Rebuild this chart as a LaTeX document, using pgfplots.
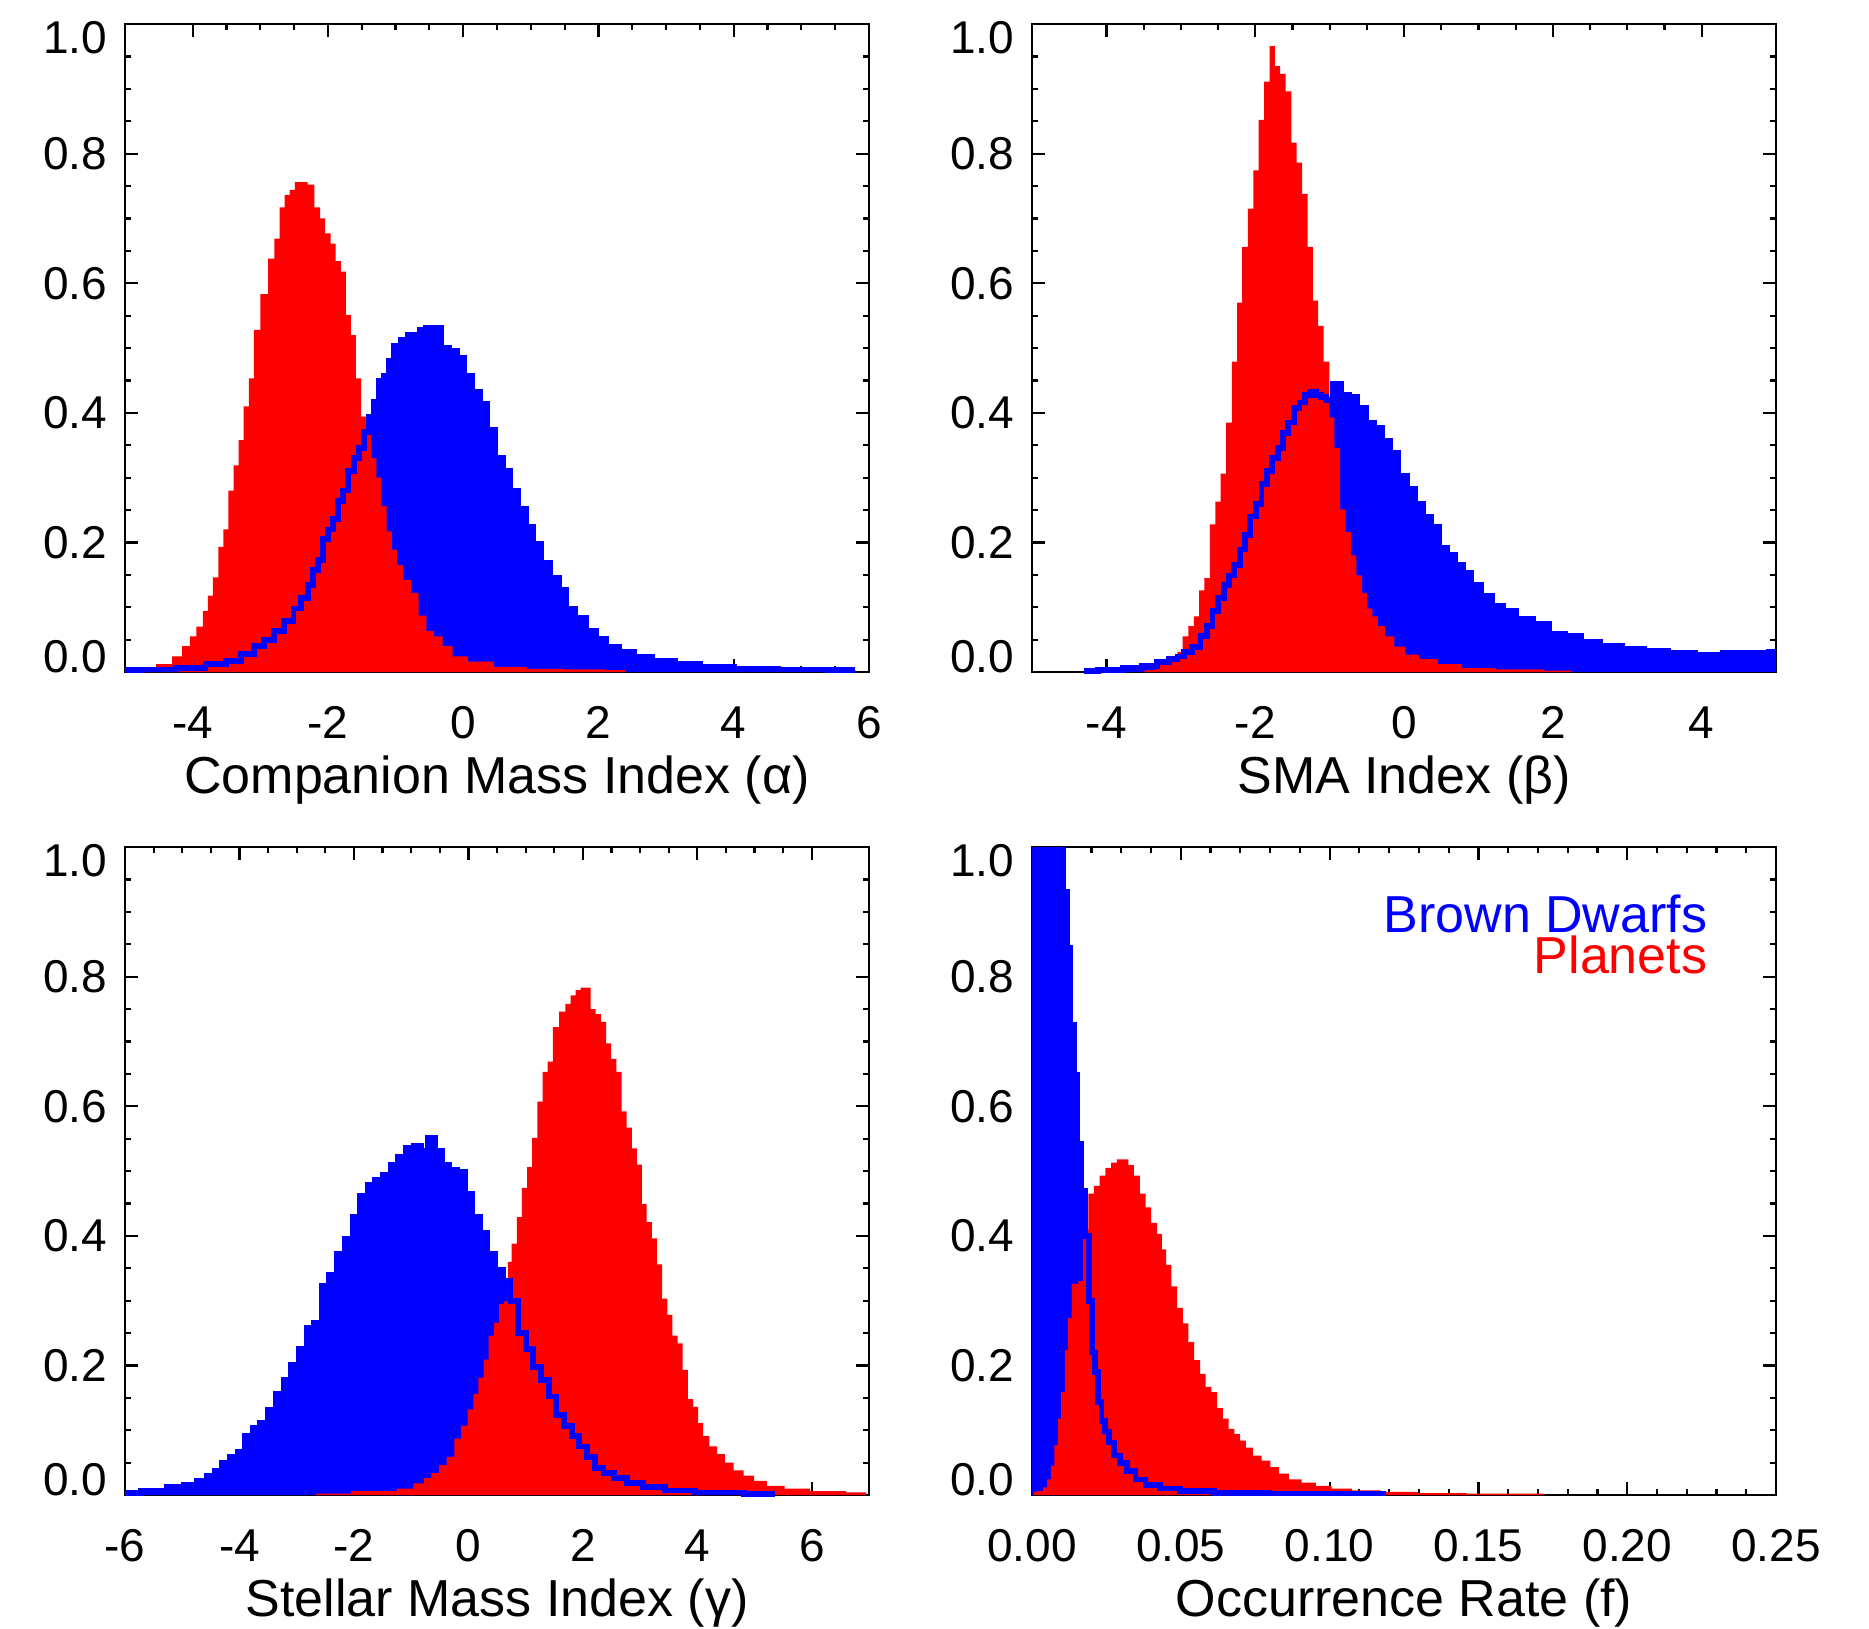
\documentclass[border=0pt]{standalone}
\usepackage{fontspec}
\setmainfont{Liberation Sans}
\usepackage{pgfplots}
\pgfplotsset{compat=1.18}

\pgfplotsset{
  idl/.style={
    scale only axis, width=186pt, height=162pt,
    ymin=0, ymax=1,
    axis line style={line width=0.65pt},
    tick style={black, line width=0.55pt},
    major tick length=3.2pt, minor tick length=1.6pt,
    tick align=inside,
    ytick={0,0.2,0.4,0.6,0.8,1},
    yticklabels={\smash{0.0},0.2,0.4,0.6,0.8,\smash{\raisebox{-7.4pt}{1.0}}},
    minor y tick num=3,
    tick label style={font=\fontsize{11.5}{13}\selectfont},
    yticklabel style={anchor=east, inner sep=0pt, xshift=-4.25pt},
    xticklabel style={anchor=base, inner sep=0pt, yshift=-16.5pt},
    label style={font=\fontsize{13}{15}\selectfont},
    xlabel style={at={(axis description cs:0.5,0)}, anchor=base, yshift=-30.25pt},
  },
  bfill/.style={fill=blue, draw=none, const plot mark mid},
  rfill/.style={fill=red, draw=none, const plot mark mid},
  bline/.style={blue, line width=1.45pt, const plot mark mid},
}

\begin{document}
\begin{tikzpicture}
\path[use as bounding box] (0,0) rectangle (467.25pt,-407pt);

% ---------------- Top left: Companion Mass Index
\begin{axis}[idl, clip=false, at={(31.25pt,-6pt)}, anchor=north west,
  xmin=-5, xmax=6, xtick={-4,-2,0,2,4,6}, xticklabels={-4,-2,0,2,4,6},
  minor x tick num=3, xlabel={Companion Mass Index (α)}]
\addplot[bfill] coordinates {(-5.0,0.003) (-4.5,0.004) (-4.0,0.006) (-3.62,0.012) (-3.4,0.017) (-3.17,0.028) (-3.02,0.04) (-2.87,0.05) (-2.72,0.063) (-2.57,0.079) (-2.45,0.098) (-2.34,0.114) (-2.26,0.134) (-2.19,0.157) (-2.11,0.173) (-2.04,0.205) (-1.96,0.22) (-1.89,0.236) (-1.81,0.264) (-1.74,0.28) (-1.66,0.31) (-1.58,0.33) (-1.51,0.346) (-1.43,0.37) (-1.36,0.394) (-1.28,0.417) (-1.21,0.449) (-1.13,0.457) (-1.06,0.48) (-0.98,0.504) (-0.87,0.512) (-0.75,0.52) (-0.68,0.504) (-0.6,0.528) (-0.49,0.531) (-0.38,0.531) (-0.26,0.50) (-0.15,0.496) (-0.04,0.484) (0.08,0.457) (0.19,0.433) (0.3,0.413) (0.42,0.374) (0.53,0.33) (0.64,0.31) (0.75,0.28) (0.87,0.252) (0.98,0.224) (1.09,0.197) (1.21,0.169) (1.36,0.146) (1.47,0.126) (1.58,0.098) (1.74,0.083) (1.89,0.063) (2.04,0.051) (2.19,0.039) (2.42,0.031) (2.64,0.024) (2.94,0.017) (3.32,0.012) (3.7,0.008) (4.3,0.005) (5.0,0.004) (5.8,0.003)} \closedcycle;
\addplot[rfill] coordinates {(-5.0,0.003) (-4.7,0.005) (-4.38,0.012) (-4.23,0.024) (-4.08,0.04) (-4.0,0.055) (-3.89,0.07) (-3.81,0.094) (-3.74,0.118) (-3.66,0.146) (-3.58,0.193) (-3.51,0.22) (-3.43,0.28) (-3.36,0.319) (-3.28,0.358) (-3.21,0.41) (-3.13,0.453) (-3.06,0.528) (-2.94,0.583) (-2.83,0.638) (-2.75,0.669) (-2.68,0.717) (-2.6,0.736) (-2.53,0.744) (-2.45,0.756) (-2.35,0.756) (-2.25,0.752) (-2.15,0.717) (-2.08,0.70) (-2.0,0.677) (-1.92,0.661) (-1.85,0.634) (-1.77,0.618) (-1.7,0.551) (-1.62,0.52) (-1.55,0.453) (-1.47,0.394) (-1.4,0.374) (-1.32,0.33) (-1.25,0.30) (-1.17,0.256) (-1.09,0.217) (-1.02,0.189) (-0.94,0.165) (-0.83,0.142) (-0.72,0.122) (-0.6,0.087) (-0.49,0.063) (-0.38,0.055) (-0.23,0.04) (-0.08,0.024) (0.23,0.016) (0.68,0.008) (1.2,0.005) (1.8,0.004) (2.4,0.003)} \closedcycle;
\addplot[bline] coordinates {(-5.0,0.003) (-4.5,0.004) (-4.0,0.006) (-3.62,0.012) (-3.4,0.017) (-3.17,0.028) (-3.02,0.04) (-2.87,0.05) (-2.72,0.063) (-2.57,0.079) (-2.45,0.098) (-2.34,0.114) (-2.26,0.134) (-2.19,0.157) (-2.11,0.173) (-2.04,0.205) (-1.96,0.22) (-1.89,0.236) (-1.81,0.264) (-1.74,0.28) (-1.66,0.31) (-1.58,0.33) (-1.51,0.346) (-1.43,0.37) (-1.36,0.394) (-1.28,0.417) (-1.21,0.449) (-1.13,0.457) (-1.06,0.48) (-0.98,0.504) (-0.87,0.512) (-0.75,0.52) (-0.68,0.504) (-0.6,0.528) (-0.49,0.531) (-0.38,0.531) (-0.26,0.50) (-0.15,0.496) (-0.04,0.484) (0.08,0.457) (0.19,0.433) (0.3,0.413) (0.42,0.374) (0.53,0.33) (0.64,0.31) (0.75,0.28) (0.87,0.252) (0.98,0.224) (1.09,0.197) (1.21,0.169) (1.36,0.146) (1.47,0.126) (1.58,0.098) (1.74,0.083) (1.89,0.063) (2.04,0.051) (2.19,0.039) (2.42,0.031) (2.64,0.024) (2.94,0.017) (3.32,0.012) (3.7,0.008) (4.3,0.005) (5.0,0.004) (5.8,0.003)};
\end{axis}

% ---------------- Top right: SMA Index
\begin{axis}[idl, clip=false, at={(258pt,-6pt)}, anchor=north west,
  xmin=-5, xmax=5, xtick={-4,-2,0,2,4}, xticklabels={-4,-2,0,2,4},
  minor x tick num=3, xlabel={SMA Index (β)}]
\addplot[bfill] coordinates {(-4.3,0.002) (-3.92,0.003) (-3.63,0.006) (-3.41,0.009) (-3.23,0.016) (-3.08,0.02) (-3.01,0.024) (-2.9,0.031) (-2.79,0.039) (-2.68,0.055) (-2.61,0.071) (-2.54,0.094) (-2.46,0.114) (-2.39,0.134) (-2.32,0.149) (-2.24,0.165) (-2.17,0.189) (-2.1,0.212) (-2.03,0.24) (-1.95,0.259) (-1.88,0.29) (-1.81,0.31) (-1.73,0.33) (-1.66,0.346) (-1.59,0.369) (-1.52,0.385) (-1.44,0.408) (-1.37,0.416) (-1.3,0.428) (-1.22,0.432) (-1.15,0.428) (-1.08,0.424) (-1.01,0.42) (-0.9,0.444) (-0.79,0.428) (-0.68,0.424) (-0.57,0.408) (-0.46,0.385) (-0.35,0.377) (-0.24,0.357) (-0.13,0.338) (-0.02,0.302) (0.09,0.283) (0.2,0.259) (0.31,0.24) (0.42,0.224) (0.52,0.192) (0.63,0.18) (0.74,0.165) (0.85,0.153) (0.96,0.134) (1.11,0.118) (1.25,0.102) (1.4,0.094) (1.62,0.082) (1.84,0.075) (2.06,0.059) (2.27,0.055) (2.49,0.047) (2.78,0.041) (3.08,0.035) (3.37,0.033) (3.73,0.03) (4.1,0.027) (4.46,0.029) (4.8,0.03) (5.0,0.031)} \closedcycle;
\addplot[rfill] coordinates {(-3.5,0.003) (-3.19,0.012) (-3.08,0.02) (-3.01,0.031) (-2.94,0.055) (-2.86,0.071) (-2.79,0.086) (-2.72,0.126) (-2.65,0.145) (-2.57,0.228) (-2.5,0.263) (-2.43,0.306) (-2.35,0.385) (-2.28,0.479) (-2.21,0.57) (-2.14,0.656) (-2.06,0.715) (-1.99,0.774) (-1.92,0.852) (-1.84,0.911) (-1.77,0.966) (-1.7,0.935) (-1.63,0.923) (-1.55,0.896) (-1.48,0.817) (-1.41,0.786) (-1.33,0.738) (-1.26,0.656) (-1.19,0.573) (-1.12,0.534) (-1.04,0.479) (-0.97,0.393) (-0.9,0.346) (-0.82,0.251) (-0.75,0.216) (-0.68,0.18) (-0.6,0.149) (-0.53,0.122) (-0.46,0.098) (-0.39,0.086) (-0.31,0.071) (-0.2,0.055) (-0.06,0.039) (0.09,0.027) (0.31,0.02) (0.6,0.012) (0.96,0.006) (1.5,0.004) (2.25,0.002)} \closedcycle;
\addplot[bline] coordinates {(-4.3,0.002) (-3.92,0.003) (-3.63,0.006) (-3.41,0.009) (-3.23,0.016) (-3.08,0.02) (-3.01,0.024) (-2.9,0.031) (-2.79,0.039) (-2.68,0.055) (-2.61,0.071) (-2.54,0.094) (-2.46,0.114) (-2.39,0.134) (-2.32,0.149) (-2.24,0.165) (-2.17,0.189) (-2.1,0.212) (-2.03,0.24) (-1.95,0.259) (-1.88,0.29) (-1.81,0.31) (-1.73,0.33) (-1.66,0.346) (-1.59,0.369) (-1.52,0.385) (-1.44,0.408) (-1.37,0.416) (-1.3,0.428) (-1.22,0.432) (-1.15,0.428) (-1.08,0.424) (-1.01,0.42) (-0.9,0.444) (-0.79,0.428) (-0.68,0.424) (-0.57,0.408) (-0.46,0.385) (-0.35,0.377) (-0.24,0.357) (-0.13,0.338) (-0.02,0.302) (0.09,0.283) (0.2,0.259) (0.31,0.24) (0.42,0.224) (0.52,0.192) (0.63,0.18) (0.74,0.165) (0.85,0.153) (0.96,0.134) (1.11,0.118) (1.25,0.102) (1.4,0.094) (1.62,0.082) (1.84,0.075) (2.06,0.059) (2.27,0.055) (2.49,0.047) (2.78,0.041) (3.08,0.035) (3.37,0.033) (3.73,0.03) (4.1,0.027) (4.46,0.029) (4.8,0.03) (5.0,0.031)};
\end{axis}

% ---------------- Bottom left: Stellar Mass Index
\begin{axis}[idl, clip=false, at={(31.25pt,-211.75pt)}, anchor=north west,
  xmin=-6, xmax=7, xtick={-6,-4,-2,0,2,4,6}, xticklabels={-6,-4,-2,0,2,4,6},
  minor x tick num=3, xlabel={Stellar Mass Index (γ)}]
\addplot[bfill] coordinates {(-6.0,0.003) (-5.44,0.006) (-5.08,0.012) (-4.86,0.016) (-4.63,0.022) (-4.5,0.03) (-4.37,0.038) (-4.23,0.05) (-4.1,0.059) (-3.97,0.067) (-3.83,0.091) (-3.7,0.103) (-3.57,0.111) (-3.43,0.132) (-3.3,0.156) (-3.16,0.177) (-3.03,0.201) (-2.9,0.225) (-2.76,0.258) (-2.63,0.266) (-2.5,0.323) (-2.36,0.339) (-2.23,0.372) (-2.09,0.396) (-1.96,0.429) (-1.83,0.461) (-1.69,0.478) (-1.56,0.486) (-1.43,0.494) (-1.29,0.51) (-1.16,0.522) (-1.02,0.535) (-0.89,0.539) (-0.76,0.531) (-0.64,0.551) (-0.53,0.531) (-0.4,0.51) (-0.27,0.502) (-0.13,0.498) (0.0,0.465) (0.13,0.429) (0.27,0.404) (0.4,0.372) (0.53,0.347) (0.67,0.331) (0.8,0.299) (0.94,0.25) (1.07,0.225) (1.2,0.197) (1.34,0.177) (1.47,0.152) (1.6,0.124) (1.74,0.107) (1.87,0.091) (2.0,0.075) (2.14,0.059) (2.27,0.042) (2.45,0.034) (2.63,0.026) (2.9,0.018) (3.21,0.012) (3.65,0.007) (4.28,0.004) (5.35,0.002)} \closedcycle;
\addplot[rfill] coordinates {(-2.67,0.002) (-1.43,0.006) (-1.07,0.01) (-0.85,0.018) (-0.71,0.026) (-0.58,0.034) (-0.45,0.046) (-0.31,0.059) (-0.18,0.087) (-0.07,0.107) (0.04,0.132) (0.13,0.156) (0.22,0.181) (0.31,0.209) (0.4,0.246) (0.49,0.266) (0.58,0.295) (0.67,0.299) (0.71,0.36) (0.8,0.388) (0.89,0.429) (0.98,0.474) (1.07,0.506) (1.16,0.551) (1.25,0.607) (1.34,0.653) (1.43,0.669) (1.52,0.722) (1.65,0.746) (1.74,0.758) (1.83,0.771) (1.92,0.779) (2.0,0.783) (2.09,0.783) (2.18,0.75) (2.27,0.742) (2.36,0.73) (2.45,0.697) (2.54,0.673) (2.63,0.653) (2.72,0.592) (2.81,0.567) (2.9,0.535) (2.99,0.51) (3.07,0.449) (3.16,0.421) (3.25,0.396) (3.34,0.356) (3.43,0.303) (3.52,0.278) (3.61,0.246) (3.7,0.234) (3.79,0.193) (3.88,0.148) (3.97,0.136) (4.06,0.111) (4.14,0.091) (4.28,0.075) (4.41,0.063) (4.55,0.05) (4.72,0.038) (4.9,0.03) (5.08,0.022) (5.35,0.014) (5.7,0.01) (6.24,0.006) (6.95,0.004)} \closedcycle;
\addplot[bline] coordinates {(-6.0,0.003) (-5.44,0.006) (-5.08,0.012) (-4.86,0.016) (-4.63,0.022) (-4.5,0.03) (-4.37,0.038) (-4.23,0.05) (-4.1,0.059) (-3.97,0.067) (-3.83,0.091) (-3.7,0.103) (-3.57,0.111) (-3.43,0.132) (-3.3,0.156) (-3.16,0.177) (-3.03,0.201) (-2.9,0.225) (-2.76,0.258) (-2.63,0.266) (-2.5,0.323) (-2.36,0.339) (-2.23,0.372) (-2.09,0.396) (-1.96,0.429) (-1.83,0.461) (-1.69,0.478) (-1.56,0.486) (-1.43,0.494) (-1.29,0.51) (-1.16,0.522) (-1.02,0.535) (-0.89,0.539) (-0.76,0.531) (-0.64,0.551) (-0.53,0.531) (-0.4,0.51) (-0.27,0.502) (-0.13,0.498) (0.0,0.465) (0.13,0.429) (0.27,0.404) (0.4,0.372) (0.53,0.347) (0.67,0.331) (0.8,0.299) (0.94,0.25) (1.07,0.225) (1.2,0.197) (1.34,0.177) (1.47,0.152) (1.6,0.124) (1.74,0.107) (1.87,0.091) (2.0,0.075) (2.14,0.059) (2.27,0.042) (2.45,0.034) (2.63,0.026) (2.9,0.018) (3.21,0.012) (3.65,0.007) (4.28,0.004) (5.35,0.002)};
\end{axis}

% ---------------- Bottom right: Occurrence Rate
\begin{axis}[idl, at={(258pt,-211.75pt)}, anchor=north west,
  xmin=0, xmax=0.25, xtick={0,0.05,0.1,0.15,0.2,0.25},
  xticklabels={0.00,0.05,0.10,0.15,0.20,0.25},
  minor x tick num=4, xlabel={Occurrence Rate (f)}]
\addplot[bfill] coordinates {(0.0,0.38) (0.0011,1.3) (0.0022,1.5) (0.0033,1.6) (0.0044,1.6) (0.0055,1.5) (0.0066,1.4) (0.0077,1.3) (0.0088,1.2) (0.0099,1.08) (0.0112,0.93) (0.0123,0.845) (0.0135,0.725) (0.0146,0.648) (0.016,0.542) (0.0173,0.469) (0.0185,0.40) (0.0196,0.30) (0.0207,0.22) (0.0218,0.19) (0.0228,0.143) (0.0239,0.114) (0.025,0.098) (0.0266,0.081) (0.0285,0.061) (0.0304,0.049) (0.0333,0.037) (0.0362,0.024) (0.04,0.016) (0.0458,0.01) (0.0535,0.006) (0.069,0.003) (0.09,0.002) (0.119,0.001)} \closedcycle;
\addplot[rfill] coordinates {(0.0005,0.005) (0.003,0.006) (0.0044,0.012) (0.0058,0.024) (0.0069,0.045) (0.0081,0.077) (0.0092,0.118) (0.0104,0.159) (0.0116,0.224) (0.0127,0.273) (0.0139,0.326) (0.015,0.326) (0.0162,0.33) (0.0181,0.41) (0.0198,0.465) (0.0218,0.477) (0.0237,0.493) (0.0256,0.505) (0.0275,0.513) (0.0295,0.518) (0.0314,0.518) (0.0333,0.509) (0.0352,0.493) (0.0372,0.465) (0.0391,0.444) (0.041,0.42) (0.043,0.403) (0.0443,0.379) (0.0458,0.355) (0.0478,0.322) (0.0497,0.289) (0.0516,0.265) (0.0535,0.236) (0.0555,0.208) (0.0574,0.187) (0.0593,0.167) (0.0612,0.159) (0.0632,0.134) (0.0651,0.118) (0.067,0.102) (0.069,0.094) (0.0709,0.084) (0.0728,0.073) (0.0757,0.061) (0.0786,0.053) (0.0815,0.043) (0.0844,0.033) (0.0882,0.024) (0.093,0.019) (0.0978,0.014) (0.1036,0.01) (0.1113,0.007) (0.1229,0.005) (0.1364,0.003) (0.1556,0.002) (0.172,0.002)} \closedcycle;
\addplot[bline] coordinates {(0.0,0.38) (0.0011,1.3) (0.0022,1.5) (0.0033,1.6) (0.0044,1.6) (0.0055,1.5) (0.0066,1.4) (0.0077,1.3) (0.0088,1.2) (0.0099,1.08) (0.0112,0.93) (0.0123,0.845) (0.0135,0.725) (0.0146,0.648) (0.016,0.542) (0.0173,0.469) (0.0185,0.40) (0.0196,0.30) (0.0207,0.22) (0.0218,0.19) (0.0228,0.143) (0.0239,0.114) (0.025,0.098) (0.0266,0.081) (0.0285,0.061) (0.0304,0.049) (0.0333,0.037) (0.0362,0.024) (0.04,0.016) (0.0458,0.01) (0.0535,0.006) (0.069,0.003) (0.09,0.002) (0.119,0.001)};
\end{axis}

\node[anchor=base east, inner sep=0pt, text=blue, font=\fontsize{13}{15}\selectfont] at (427pt,-233pt) {Brown Dwarfs};
\node[anchor=base east, inner sep=0pt, text=red, font=\fontsize{13}{15}\selectfont] at (427pt,-243.25pt) {Planets};
\end{tikzpicture}
\end{document}
